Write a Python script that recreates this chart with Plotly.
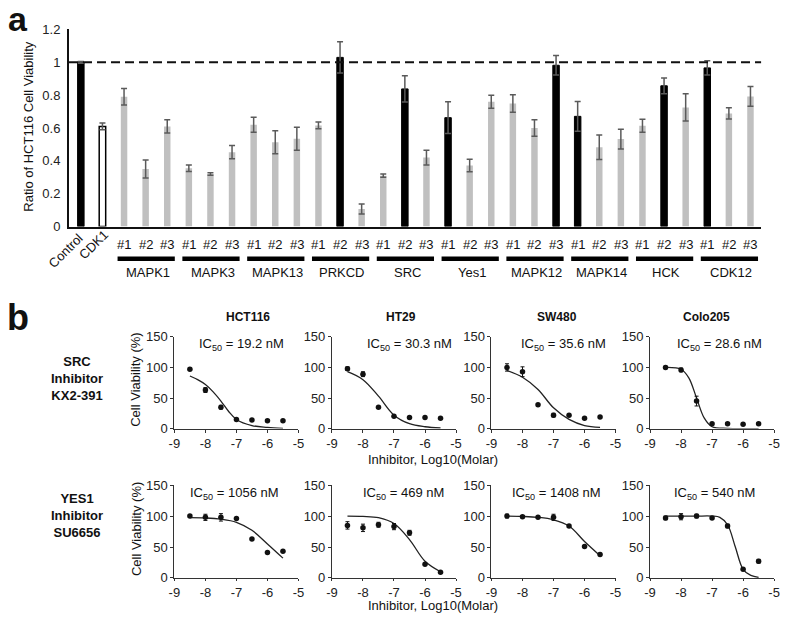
import plotly.graph_objects as go

W, H = 787, 623
FONT = "Arial, 'Liberation Sans', sans-serif"

# ---------------- Panel a data ----------------
control_labels = ["Control", "CDK1"]
control_vals = [1.0, 0.61]
control_errs = [0.005, 0.02]

groups = ["MAPK1", "MAPK3", "MAPK13", "PRKCD", "SRC", "Yes1", "MAPK12", "MAPK14", "HCK", "CDK12"]
shrna_labels = ["#1", "#2", "#3"]
group_vals = [
    [0.79, 0.35, 0.61],
    [0.355, 0.32, 0.453],
    [0.62, 0.513, 0.535],
    [0.616, 1.03, 0.107],
    [0.31, 0.838, 0.42],
    [0.663, 0.372, 0.76],
    [0.749, 0.60, 0.982],
    [0.671, 0.483, 0.533],
    [0.614, 0.857, 0.725],
    [0.966, 0.689, 0.792],
]
group_errs = [
    [0.05, 0.055, 0.04],
    [0.02, 0.008, 0.04],
    [0.045, 0.07, 0.07],
    [0.02, 0.095, 0.03],
    [0.01, 0.08, 0.045],
    [0.097, 0.038, 0.04],
    [0.053, 0.05, 0.06],
    [0.09, 0.075, 0.06],
    [0.04, 0.048, 0.083],
    [0.044, 0.034, 0.06],
]
# which shRNA (1-based) is highlighted in black per group (0 = none)
black_shrna = [0, 0, 0, 2, 2, 1, 3, 1, 2, 1]

# ---------------- Panel b data ----------------
cell_lines = ["HCT116", "HT29", "SW480", "Colo205"]
inhibitors = ["SRC<br>Inhibitor<br>KX2-391", "YES1<br>Inhibitor<br>SU6656"]
log_doses = [-8.5, -8, -7.5, -7, -6.5, -6, -5.5]
ic50_text = [
    ["19.2 nM", "30.3 nM", "35.6 nM", "28.6 nM"],
    ["1056 nM", "469 nM", "1408 nM", "540 nM"],
]
viab = [
    [
        [97, 63, 35, 15, 14, 13, 13],
        [98, 89, 35, 20, 18, 18, 17],
        [100, 93, 39, 22, 22, 17, 19],
        [100, 96, 45, 8, 8, 7, 8],
    ],
    [
        [100, 98, 98, 96, 63, 41, 43],
        [85, 81, 86, 83, 73, 22, 9],
        [100, 99, 98, 98, 84, 51, 38],
        [97, 99, 100, 97, 84, 14, 27],
    ],
]
viab_err = [
    [
        [2, 4, 3, 1, 1, 1, 1],
        [3, 4, 1, 1, 1, 1, 1],
        [6, 8, 2, 3, 1, 1, 1],
        [2, 3, 8, 2, 1, 1, 1],
    ],
    [
        [1, 5, 6, 1, 1, 1, 1],
        [6, 6, 4, 5, 4, 1, 1],
        [3, 1, 1, 5, 1, 1, 2],
        [3, 5, 3, 1, 3, 1, 3],
    ],
]
# fitted curves
fit_x = [
    [
        [-8.5, -8.25, -8, -7.75, -7.5, -7.25, -7, -6.5, -6, -5.5],
        [-8.5, -8, -7.5, -7, -6.5, -6, -5.5],
        [-8.5, -8, -7.5, -7, -6.5, -6, -5.5],
        [-8.5, -8, -7.75, -7.5, -7.25, -7, -6.5, -6, -5.5],
    ],
    [
        [-8.5, -8, -7.5, -7, -6.5, -6, -5.5],
        [-8.5, -8, -7.5, -7, -6.5, -6, -5.5],
        [-8.5, -8, -7.5, -7, -6.5, -6, -5.5],
        [-8.5, -8, -7.5, -7, -6.75, -6.5, -6.25, -6, -5.75, -5.5],
    ],
]
fit_y = [
    [
        [86, 80, 72, 60, 45, 28, 15, 5, 2, 0.5],
        [93, 80, 53, 22, 8, 3, 1],
        [95, 84, 64, 34, 15, 5, 2],
        [100, 97, 83, 50, 17, 3, 0.5, 0, 0],
    ],
    [
        [97.5, 97, 95, 90, 77, 55, 32],
        [100, 99.5, 97.5, 88, 62, 27, 10],
        [100, 99.5, 98, 94, 84, 59, 36],
        [100, 100, 100, 100, 98, 86, 50, 14, 4, 1],
    ],
]
x_ticks = [-9, -8, -7, -6, -5]
x_tick_text = ["-9", "-8", "-7", "-6", "-5"]
y_ticks_b = [0, 50, 100, 150]


def px_x(p):
    return p / W


def px_y(p):
    return 1 - p / H


fig = go.Figure()

# ---------------- Panel a ----------------
cats, vals, errs, colors, lcolors, lwidths = [], [], [], [], [], []
for lab, v, e in zip(control_labels, control_vals, control_errs):
    cats.append(lab)
    vals.append(v)
    errs.append(e)
colors += ["#000000", "#ffffff"]
lcolors += ["#000000", "#000000"]
lwidths += [1, 1.5]
for g, gv, ge, b in zip(groups, group_vals, group_errs, black_shrna):
    for k, (s, v, e) in enumerate(zip(shrna_labels, gv, ge)):
        cats.append(f"{g} {s}")
        vals.append(v)
        errs.append(e)
        is_black = (k + 1) == b
        colors.append("#000000" if is_black else "#c0c0c0")
        lcolors.append("#000000" if is_black else "#c0c0c0")
        lwidths.append(1 if is_black else 0)

fig.add_trace(go.Bar(
    x=cats, y=vals, width=0.3,
    marker=dict(color=colors, line=dict(color=lcolors, width=lwidths)),
    error_y=dict(type="data", array=errs, visible=True, color="#5a5a5a", thickness=1.5, width=3),
    xaxis="x", yaxis="y", showlegend=False,
))

n = len(cats)
x0p, x1p = 64, 767
first_c, last_c = 76, 756
step = (last_c - first_c) / (n - 1)
xr = [-(first_c - x0p) / step, (n - 1) + (x1p - last_c) / step]

axis_font = dict(family=FONT, size=13, color="#222")
layout = dict(
    width=W, height=H, margin=dict(l=0, r=0, t=0, b=0, pad=0),
    paper_bgcolor="white", plot_bgcolor="white",
    font=dict(family=FONT, color="#222"),
    showlegend=False,
    xaxis=dict(domain=[px_x(x0p), px_x(x1p)], anchor="y", type="category", range=xr,
               showticklabels=False, ticks="", showline=True, linecolor="#111", linewidth=2,
               showgrid=False, zeroline=False, fixedrange=True),
    yaxis=dict(domain=[px_y(225), px_y(23)], anchor="x", range=[0, 1.2], tickvals=[0, 0.2, 0.4, 0.6, 0.8, 1, 1.2],
               ticks="", showline=True, linecolor="#111", linewidth=2, showgrid=False, zeroline=False,
               tickfont=axis_font, ticklabelstandoff=4),
)

shapes = []
annotations = []
# dashed reference line at 1
shapes.append(dict(type="line", xref="x", yref="y", x0=xr[0], x1=xr[1], y0=1, y1=1,
                   line=dict(color="#111", width=2, dash="9px,5px")))


def ann(text, x, y, size=13, bold=False, angle=0, xref="paper", yref="paper", xanchor="center", yanchor="middle"):
    t = f"<b>{text}</b>" if bold else text
    annotations.append(dict(text=t, x=x, y=y, xref=xref, yref=yref, showarrow=False,
                            font=dict(family=FONT, size=size, color="#111"), textangle=angle,
                            xanchor=xanchor, yanchor=yanchor, align="center"))


# shRNA labels, group lines and names
for gi, g in enumerate(groups):
    first_idx = 2 + gi * 3
    for k, s in enumerate(shrna_labels):
        ann(s, first_idx + k, px_y(243), size=13, xref="x")
    shapes.append(dict(type="line", xref="x", yref="paper", x0=first_idx - 0.3, x1=first_idx + 2.35,
                       y0=px_y(258), y1=px_y(258), line=dict(color="#000", width=4.5)))
    ann(g, first_idx + 1.1, px_y(272), size=13, xref="x")

ann("Control", px_x(61), px_y(250), size=13, angle=-45)
ann("CDK1", px_x(89), px_y(243), size=13, angle=-45)
ann("Ratio of HCT116 Cell Viability", px_x(22), px_y(122), size=13, angle=-90)
ann("a", px_x(12), px_y(12), size=34, bold=True)
ann("b", px_x(12), px_y(318), size=36, bold=True)

# ---------------- Panel b ----------------
col_x0 = [171, 331, 493, 654]
col_w = 126
rows = [(432, 338), (585, 490)]
title_cx = [246, 401, 560, 711]
ic_cx = [[239, 410, 566, 725], [232, 404, 559, 719]]

ax_i = 2
for r in range(2):
    yb, yt = rows[r]
    for c in range(4):
        xa = f"x{ax_i}"
        ya = f"y{ax_i}"
        layout[f"xaxis{ax_i}"] = dict(domain=[px_x(col_x0[c]), px_x(col_x0[c] + col_w)], anchor=ya,
                                      range=[-9, -5], tickvals=x_ticks, ticktext=x_tick_text,
                                      ticks="outside", ticklen=3 if r == 0 else 2, tickwidth=1, tickcolor="#333",
                                      showline=True, linecolor="#333", linewidth=1,
                                      showgrid=False, zeroline=False, tickfont=axis_font)
        layout[f"yaxis{ax_i}"] = dict(domain=[px_y(yb), px_y(yt)], anchor=xa, range=[0, 150],
                                      tickvals=y_ticks_b, ticks="outside", ticklen=3, tickwidth=1,
                                      tickcolor="#333", showline=True, linecolor="#333", linewidth=1,
                                      showgrid=False, zeroline=False, tickfont=axis_font)
        fig.add_trace(go.Scatter(x=fit_x[r][c], y=fit_y[r][c], mode="lines",
                                 line=dict(color="#222", width=1.3, shape="spline", smoothing=1.0),
                                 xaxis=xa, yaxis=ya, showlegend=False, cliponaxis=True))
        fig.add_trace(go.Scatter(x=log_doses, y=viab[r][c], mode="markers",
                                 marker=dict(color="#111", size=5.5, symbol="circle"),
                                 error_y=dict(type="data", array=viab_err[r][c], visible=True,
                                              color="#111", thickness=1, width=2),
                                 xaxis=xa, yaxis=ya, showlegend=False, cliponaxis=False))
        icx = -9 + (ic_cx[r][c] - col_x0[c]) / col_w * 4
        ann(f"IC<sub>50</sub> = {ic50_text[r][c]}", icx, 137, size=13, xref=xa, yref=ya)
        ax_i += 1

for c, name in enumerate(cell_lines):
    ann(name, px_x(title_cx[c]), px_y(318), size=12, bold=True)

ann(inhibitors[0], px_x(72), px_y(381), size=13, bold=True)
ann(inhibitors[1], px_x(72), px_y(521), size=13, bold=True)
ann("Cell Viability (%)", px_x(132), px_y(382), size=13, angle=-90)
ann("Cell Viability (%)", px_x(132), px_y(535), size=13, angle=-90)
ann("Inhibitor, Log10(Molar)", px_x(434), px_y(464), size=13)
ann("Inhibitor, Log10(Molar)", px_x(434), 0, size=13, yanchor="bottom")

layout["shapes"] = shapes
layout["annotations"] = annotations
fig.update_layout(**layout)
fig.write_html("out.html", config={"displayModeBar": False},
               post_script="document.body.style.margin='0';document.body.style.overflow='hidden';")
